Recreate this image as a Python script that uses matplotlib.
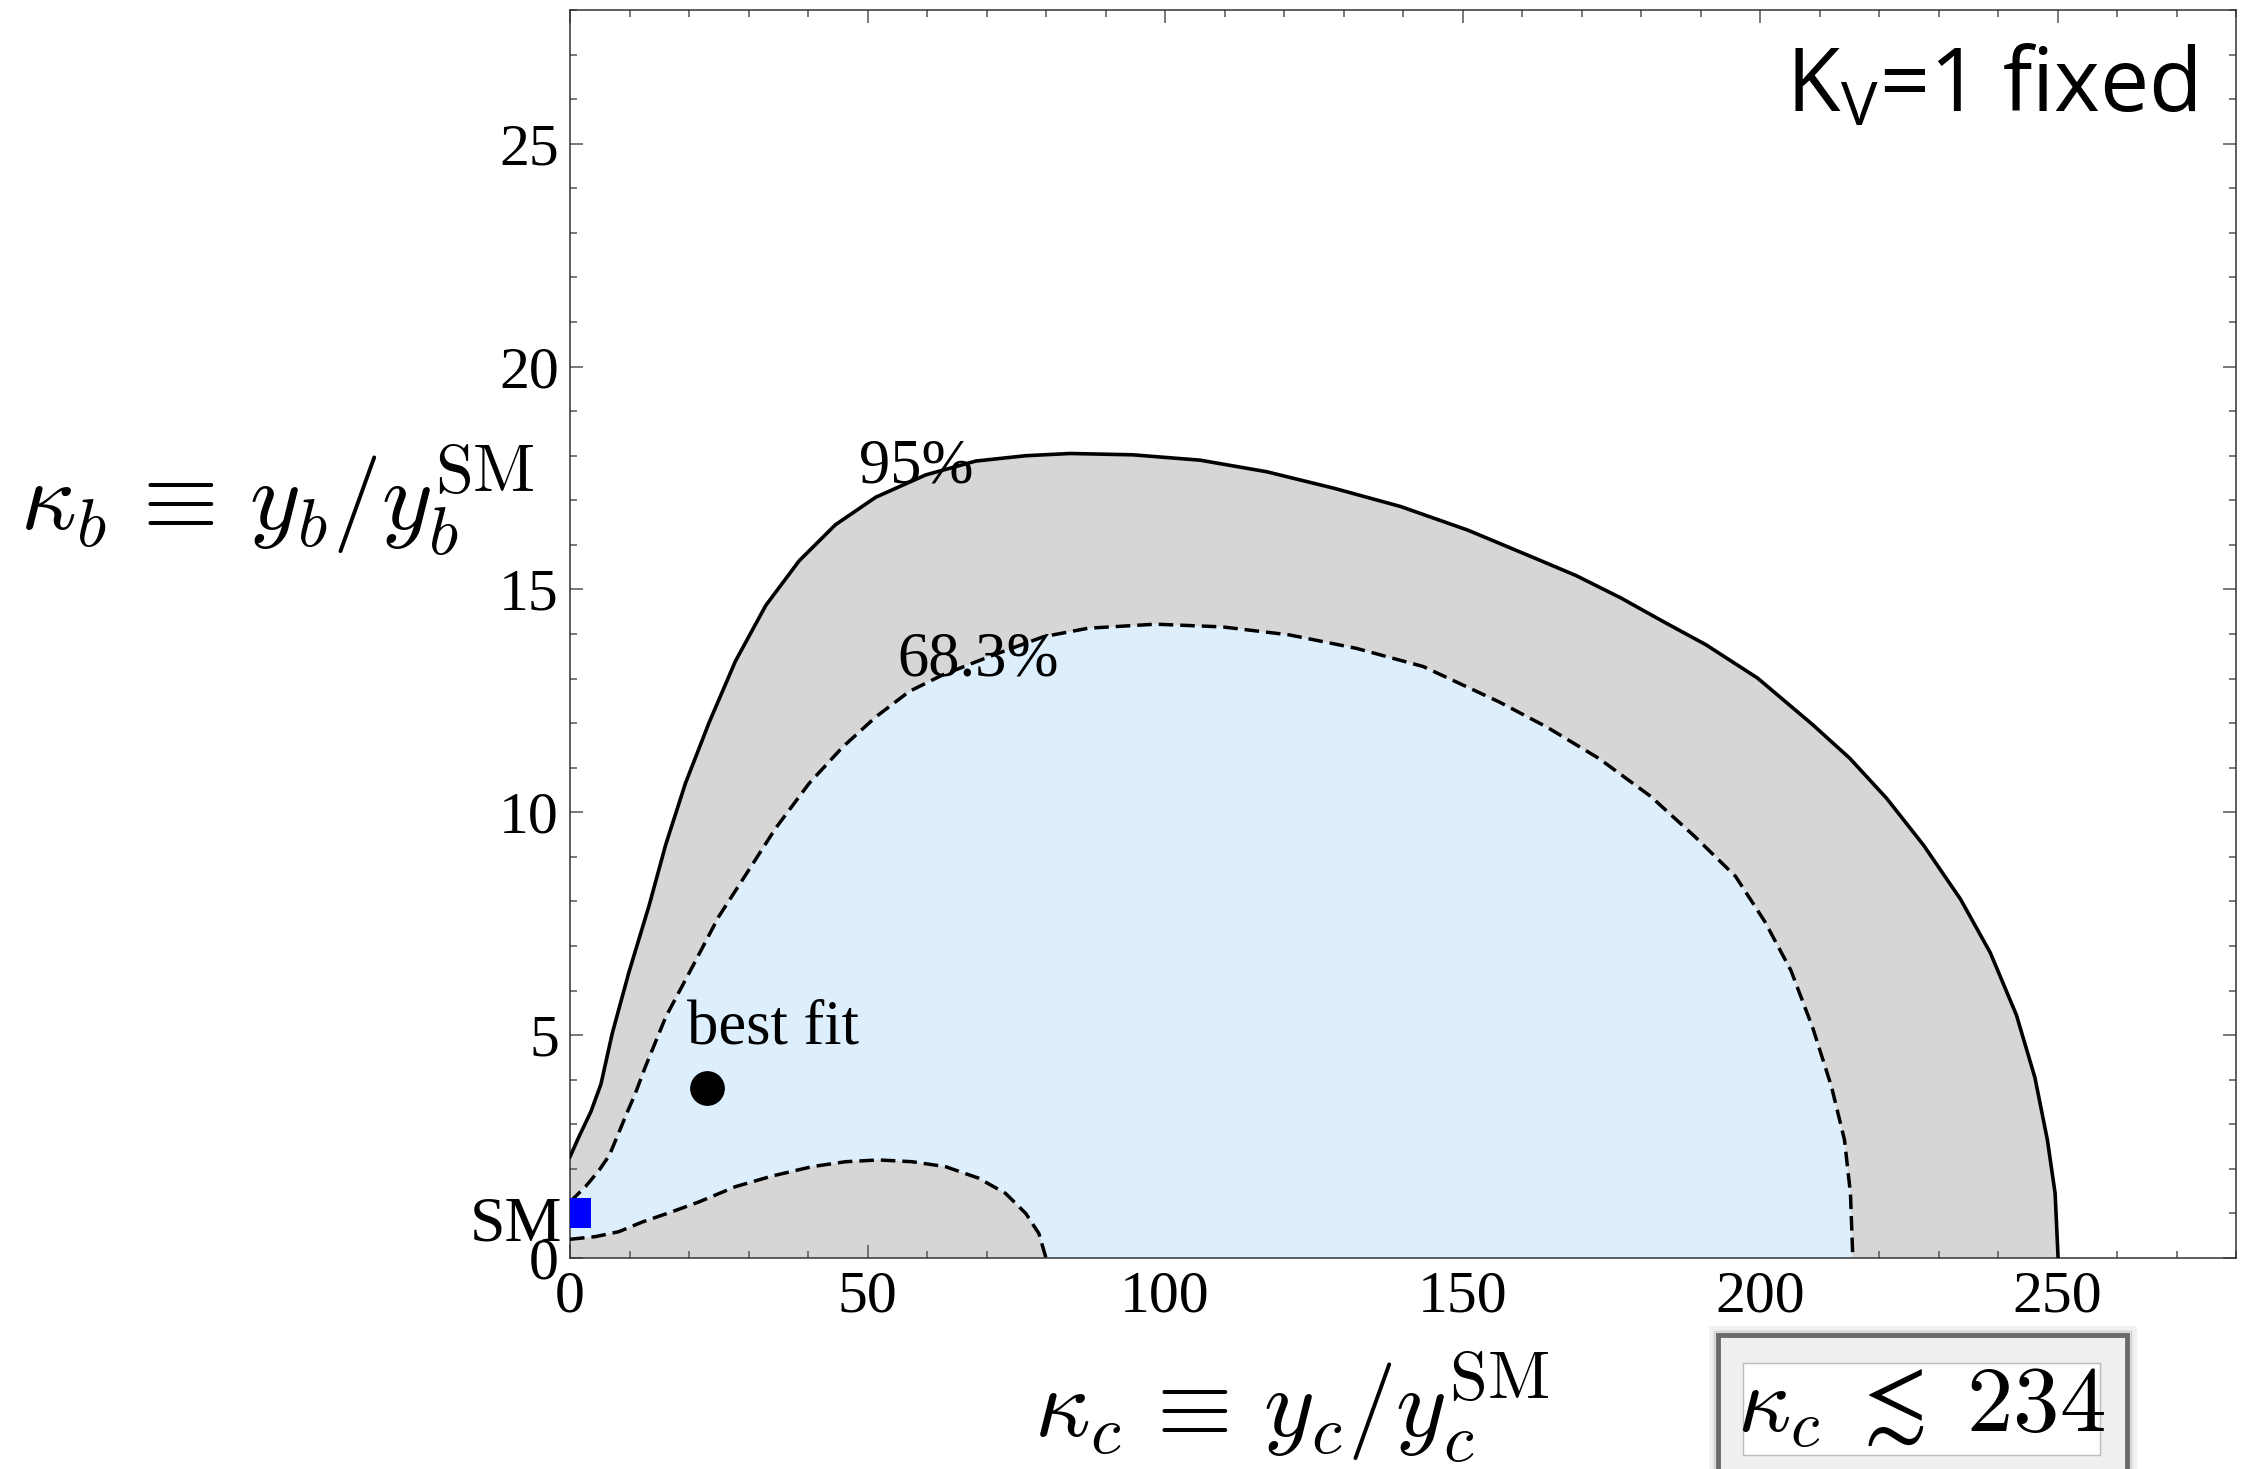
import numpy as np
import matplotlib
matplotlib.use("Agg")
import matplotlib.pyplot as plt
from matplotlib.patches import Polygon, Rectangle

plt.rcParams['font.family'] = ['Liberation Serif', 'DejaVu Serif']
plt.rcParams['mathtext.fontset'] = 'cm'

# 95% contour (solid)
c95_x = [0, 1.5, 3.5, 5.2, 7.1, 9.9, 13.3, 16.1, 19.4, 23.4, 27.8, 32.9, 38.5, 44.6,
         51.4, 59.8, 68.2, 76.6, 84.1, 94.6, 105.9, 117.1, 128.4, 139.6, 150.9,
         162.9, 169.1, 176.6, 184.0, 190.9, 199.6, 208.9, 215.1, 221.3, 227.5, 233.7,
         238.7, 243.1, 246.2, 248.3, 249.6, 250.1]
c95_y = [2.27, 2.72, 3.28, 3.9, 5.04, 6.41, 7.91, 9.28, 10.65, 12.02, 13.39, 14.64, 15.64, 16.45,
         17.07, 17.57, 17.88, 18.0, 18.05, 18.02, 17.9, 17.64, 17.27, 16.86, 16.33,
         15.66, 15.31, 14.81, 14.26, 13.76, 13.01, 11.96, 11.21, 10.31, 9.26, 8.05,
         6.85, 5.45, 4.05, 2.65, 1.45, 0]

# 68.3% contour (dashed), upper branch
c68_up_x = [0, 2.6, 4.9, 6.6, 7.7, 9.4, 11.0, 12.7, 16.1, 20.6, 25.0, 29.5, 34.6, 40.2, 45.8,
            51.4, 57.0, 62.6, 71.0, 79.6, 87.1, 98.4, 109.6, 120.9, 132.1, 143.4,
            156.1, 164.2, 172.9, 181.6, 189.0, 195.9, 200.8, 205.2, 208.9, 212.0, 214.2,
            215.2, 215.6]
c68_up_y = [1.26, 1.6, 1.97, 2.3, 2.65, 3.2, 3.7, 4.3, 5.41, 6.54, 7.66, 8.59, 9.65, 10.65, 11.46,
            12.14, 12.71, 13.08, 13.52, 13.94, 14.13, 14.22, 14.16, 13.98, 13.68, 13.27,
            12.48, 11.91, 11.21, 10.36, 9.46, 8.56, 7.55, 6.45, 5.15, 3.85, 2.65,
            1.45, 0]

# 68.3% contour (dashed), lower branch
c68_lo_x = [0, 4.3, 8.2, 12.2, 17.2, 21.7, 27.8, 34.0, 40.7, 46.3, 51.9, 57.5, 63.1, 68.7,
            73.2, 76.6, 78.8, 80.0]
c68_lo_y = [0.42, 0.48, 0.59, 0.81, 1.04, 1.26, 1.6, 1.84, 2.05, 2.16, 2.2, 2.16, 2.05, 1.79,
            1.45, 1.0, 0.55, 0]

best_fit = (23.0, 3.82)
sm_point = (1.0, 1.0)

W, H = 2252, 1469
fig = plt.figure(figsize=(W / 100, H / 100), dpi=100)
ax = fig.add_axes([570 / W, 1 - 1258 / H, (2236 - 570) / W, (1258 - 10) / H])

gray = '#d6d6d6'
blue = '#ddeefd'

ax.add_patch(Polygon(np.column_stack([[0] + c95_x, [0] + c95_y]), closed=True,
                     facecolor=gray, edgecolor='none', zorder=1))
poly68 = np.column_stack([c68_up_x + c68_lo_x[::-1], c68_up_y + c68_lo_y[::-1]])
ax.add_patch(Polygon(poly68, closed=True, facecolor=blue, edgecolor='none', zorder=2))

dash = (0, (4.2, 2.0))
ax.plot(c95_x, c95_y, color='black', lw=2.6, zorder=3)
ax.plot(c68_up_x, c68_up_y, color='black', lw=2.5, ls=dash, zorder=3)
ax.plot(c68_lo_x, c68_lo_y, color='black', lw=2.5, ls=dash, zorder=3)

ax.plot(*best_fit, 'o', color='black', ms=24, zorder=4)
ax.plot(*sm_point, 's', color='#0000ff', ms=21, mew=0, zorder=4)

ax.text(19.7, 4.82, 'best fit', fontsize=45, ha='left', va='baseline', zorder=5)
ax.text(48.6, 17.39, '95%', fontsize=45, ha='left', va='baseline', zorder=5)
ax.text(55.0, 13.08, '68.3%', fontsize=45, ha='left', va='baseline', zorder=5)
ax.text(-1.35, 0.40, 'SM', fontsize=46, ha='right', va='baseline', clip_on=False, zorder=5)

ax.text(0.9766, 0.918, r'$\mathregular{Κ_V}$=1 fixed', transform=ax.transAxes,
        family=['Open Sans', 'DejaVu Sans'], fontsize=63, ha='right', va='baseline')

ax.set_xlim(0, 280)
ax.set_ylim(0, 28)
ax.set_xticks([0, 50, 100, 150, 200, 250])
ax.set_xticks(np.arange(0, 281, 10), minor=True)
ax.set_yticks([0, 5, 10, 15, 20, 25])
ax.set_yticks(np.arange(0, 29, 1), minor=True)
ax.tick_params(which='both', direction='in', top=True, right=True, color='#555555',
               width=1.1, labelsize=43)
ax.tick_params(which='major', length=9.5)
ax.tick_params(which='minor', length=5)
ax.tick_params(axis='x', pad=9)
ax.tick_params(axis='y', pad=8)
for s in ax.spines.values():
    s.set_color('#333333')
    s.set_linewidth(1.1)

fig.text(0.5737, 1 - 1437 / H, r'$\kappa_c \,\equiv\, y_c/y_c^{\mathrm{SM}}$', fontsize=70,
         ha='center', va='baseline')
fig.text(20 / W, 1 - 530 / H, r'$\kappa_b \,\equiv\, y_b/y_b^{\mathrm{SM}}$', fontsize=70,
         ha='left', va='baseline')


def frect(x0, y0, x1, y1, **kw):
    r = Rectangle((x0 / W, 1 - y1 / H), (x1 - x0) / W, (y1 - y0) / H,
                  transform=fig.transFigure, **kw)
    fig.patches.append(r)


for k, a in [(8, 0.08), (5, 0.12), (3, 0.2)]:
    frect(1718 - k, 1335 - k, 2127 + k, 1480, facecolor='none', edgecolor='#555555',
          lw=2, alpha=a)
frect(1718, 1335, 2127, 1480, facecolor='#efefed', edgecolor='#6a6a6a', lw=3.5)
frect(1743, 1363, 2100, 1455, facecolor='white', edgecolor='#bbbbbb', lw=1)
fig.text(1921 / W, 1 - 1432 / H, r'$\kappa_c \;\lesssim\; 234$', fontsize=67,
         ha='center', va='baseline')

fig.savefig('out.png', dpi=100)
